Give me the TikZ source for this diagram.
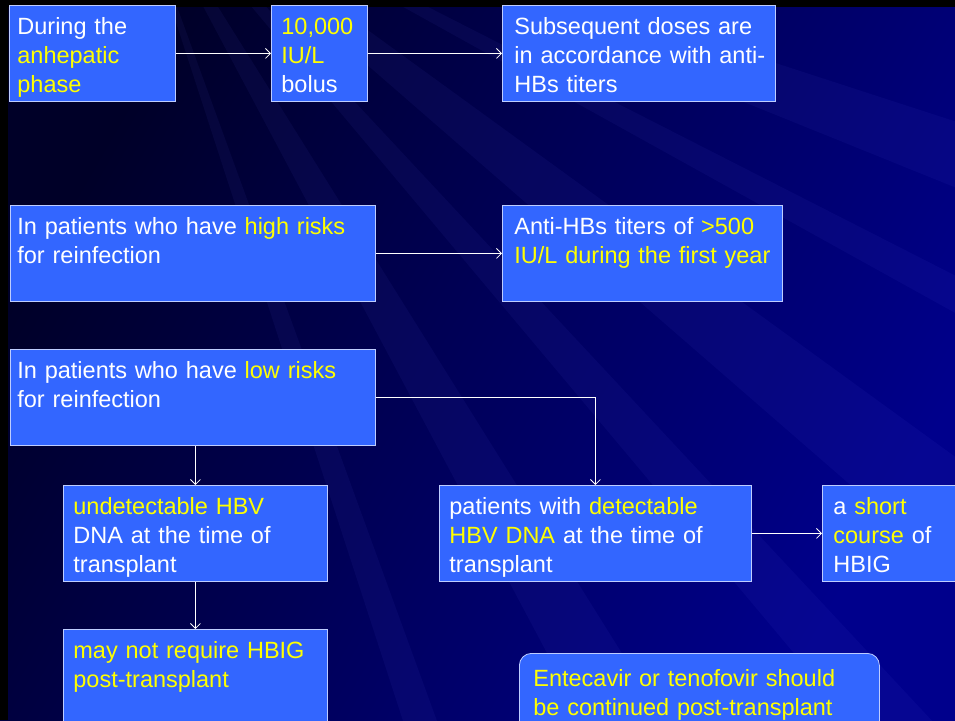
\documentclass[tikz,border=0pt]{standalone}
\usepackage{xcolor}
\usepackage{fontspec}
\setmainfont{Liberation Sans}
\usepackage{tikz}
\usetikzlibrary{arrows.meta,positioning,calc}

\definecolor{slidenavy}{RGB}{0,0,140}
\definecolor{slidedark}{RGB}{0,0,40}
\definecolor{boxblue}{RGB}{51,102,255}
\definecolor{boxline}{RGB}{190,205,255}
\definecolor{txtyellow}{RGB}{255,255,0}
\newcommand{\yel}[1]{\textcolor{txtyellow}{#1}}

\begin{document}
\begin{tikzpicture}[x=1pt, y=-1pt,
    blk/.style={draw=boxline, line width=0.8pt, fill=boxblue, text=white,
        anchor=north west, align=left, inner xsep=10pt, inner ysep=12pt,
        text height=17pt, text depth=55pt, font=\fontsize{23.5}{29}\selectfont},
    link/.style={draw=white, line width=0.8pt, -{Straight Barb[length=5pt,width=10pt]}}]

    % Slide background
    \useasboundingbox (0,0) rectangle (955,720);
    \shade[left color=slidedark, right color=slidenavy, shading angle=60] (0,0) rectangle (955,720);
    \foreach \a/\b in {18/22, 27/29, 36/41, 47/50, 58/62, 70/72}
        \fill[blue!60!white, opacity=0.06] (120,-150) -- +(\a:1500) -- +(\b:1500) -- cycle;

    % Black margin of the slide
    \fill[black] (0,0) rectangle (955,7);
    \fill[black] (0,0) rectangle (8,720);

    % Row 1 - anhepatic phase
    \node[blk, text width=150pt, inner xsep=8pt] (phase) at (9,5) {During the\\\yel{anhepatic}\\\yel{phase}};
    \node[blk, text width=76pt] (bolus) at (271,5) {\yel{10,000}\\\yel{IU/L}\\bolus};
    \node[blk, text width=249pt, inner xsep=12pt] (doses) at (502,5) {\mbox{Subsequent doses are}\\\mbox{in accordance with anti-}\\\mbox{HBs titers}};

    % Row 2 - high risk
    \node[blk, text width=351pt, inner xsep=7pt] (high) at (10,205) {In patients who have \yel{high risks}\\for reinfection};
    \node[blk, text width=256pt, inner xsep=12pt] (target) at (502,205) {\mbox{Anti-HBs titers of \yel{>500}}\\\mbox{\yel{IU/L during the first year}}};

    % Row 3 - low risk
    \node[blk, text width=351pt, inner xsep=7pt] (low) at (10,349) {In patients who have \yel{low risks}\\for reinfection};
    \node[blk, text width=244pt] (undet) at (63,485) {\yel{undetectable HBV}\\DNA at the time of\\transplant};
    \node[blk, text width=292pt] (det) at (439,485) {patients with \yel{detectable}\\\yel{HBV DNA} at the time of\\transplant};
    \node[blk, text width=128pt, inner xsep=11pt] (short) at (822,485) {a \yel{short}\\\yel{course} of\\HBIG};
    \node[blk, text width=244pt] (noHBIG) at (63,629) {\yel{may not require HBIG}\\\yel{post-transplant}};
    \node[blk, rounded corners=12pt, text width=332pt, inner xsep=14pt, inner ysep=16pt,
        text depth=80pt, text=txtyellow] (antiviral) at (519,653) {Entecavir or tenofovir should\\be continued post-transplant};

    % Arrows
    \draw[link] (phase) -- (bolus);
    \draw[link] (bolus) -- (doses);
    \draw[link] (high) -- (target);
    \draw[link] (low.east) -| (det.north);
    \draw[link] (low.south -| undet.north) -- (undet.north);
    \draw[link] (undet) -- (noHBIG);
    \draw[link] (det) -- (short);

\end{tikzpicture}
\end{document}
